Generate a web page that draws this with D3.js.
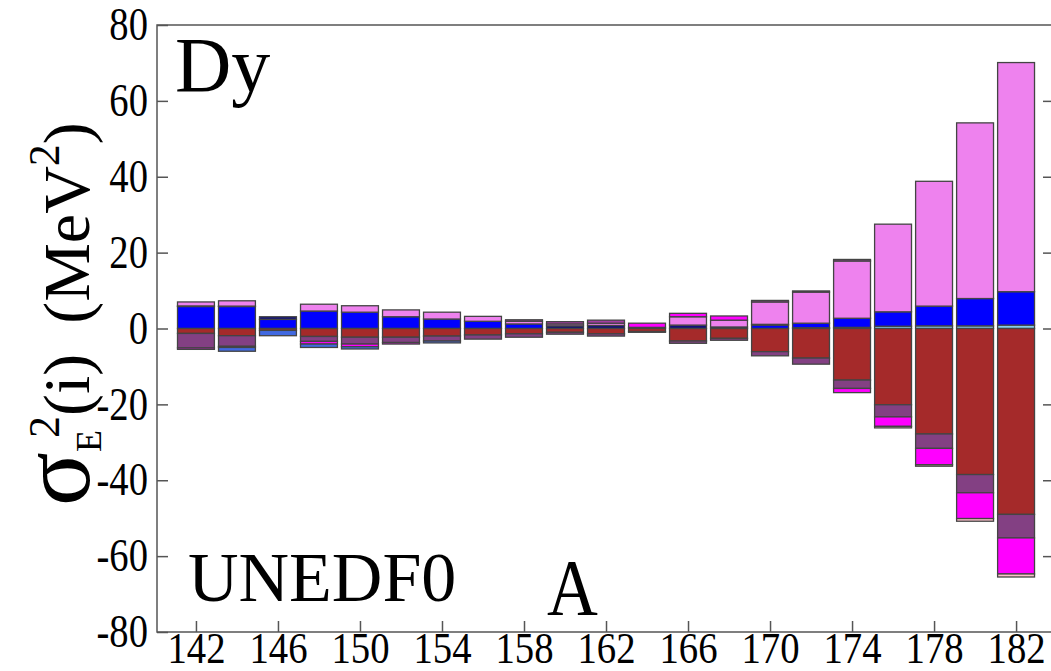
<!DOCTYPE html>
<meta charset="utf-8">
<html>
  <head>
    <script src="https://cdn.jsdelivr.net/npm/d3@7"></script>
    <style>
      body { margin: 0; background: #fff; }
      text { font-family: "Liberation Serif", "Times New Roman", serif; fill: #000; }
    </style>
  </head>
  <body>
    <div id="chart"></div>

    <script type="text/javascript">
      // mass numbers A (one bar each)
      var masses = [142, 144, 146, 148, 150, 152, 154, 156, 158, 160, 162, 164, 166, 168, 170, 172, 174, 176, 178, 180, 182];
      var xTicks = [142, 146, 150, 154, 158, 162, 166, 170, 174, 178, 182];
      var yTicks = [-80, -60, -40, -20, 0, 20, 40, 60, 80];

      // signed contributions (MeV^2), one array per colour band, in stacking order
      var skyblue   = [0, 0, 0, 0, 0, 0, 0, 0, 0, 0, 0, 0, 0, 0, 0, 0.2, 0.3, 0.6, 0.7, 0.7, 0.9];
      var blue      = [5.8, 5.8, 2.4, 4.6, 4.3, 3.1, 2.5, 1.9, 1.2, 0, 0, 0, 0, 0, 0.9, 1.2, 2.4, 3.8, 5.2, 7.2, 8.8];
      var navy      = [0.15, 0.1, 0.7, 0, 0, 0, 0, 0, 0, 0.7, 0.8, 0.3, 0.9, 0.4, 0.2, 0, 0, 0, 0, 0, 0];
      var brown     = [-1.3, -1.9, -0.5, -2.1, -2.3, -2.3, -2.0, -1.7, -1.4, -1.0, -1.4, -0.8, -3.3, -2.6, -6.1, -7.8, -13.6, -20.1, -27.8, -38.5, -49.0];
      var violet    = [1.05, 1.4, 0, 1.8, 1.7, 1.8, 1.8, 1.3, 0.7, 0.5, 0.6, 0, 2.2, 1.8, 5.9, 8.2, 15.1, 23.1, 32.9, 46.3, 60.4];
      var purple    = [-3.8, -2.8, 0, -1.3, -1.8, -1.4, -1.3, -1.1, -0.9, -0.5, -0.6, -0.2, -0.6, -0.5, -1.1, -1.6, -2.2, -3.2, -3.8, -4.8, -6.2];
      var magenta   = [-0.4, -0.3, 0, -0.7, -0.7, -0.4, 0, 0, 0, 0, 0, 1.1, 0.9, 1.1, 0, 0, -1.1, -2.5, -4.3, -6.8, -9.5];
      var pink      = [0, 0, 0, 0, 0, 0, 0, 0, 0, 0, 0, 0, 0, 0, 0, 0, 0, -0.4, -0.4, -0.7, -0.8];
      var royalblue = [0, -1.0, -1.4, -0.9, -0.6, 0, -0.5, 0, 0, 0, 0, 0, 0, 0, 0, 0, 0, 0, 0, 0, 0];
      var orchid    = [0, 0, 0, 0, 0, 0, 0, 0, 0.4, 0.6, 0.8, 0, 0, 0, 0.4, 0.3, 0.4, 0, 0, 0, 0];

      var keys = ["skyblue", "blue", "navy", "brown", "violet", "purple", "magenta", "pink", "royalblue", "orchid"];
      var series = { skyblue: skyblue, blue: blue, navy: navy, brown: brown, violet: violet, purple: purple,
                     magenta: magenta, pink: pink, royalblue: royalblue, orchid: orchid };
      var colors = { skyblue: "#87ceeb", blue: "#0000ff", navy: "#10107a", brown: "#a52a2a", violet: "#ee82ee",
                     purple: "#834083", magenta: "#ff00ff", pink: "#ffc0cb", royalblue: "#4169e1", orchid: "#a43ca4" };

      var table = masses.map(function (a, i) {
        var row = { A: a };
        keys.forEach(function (k) { row[k] = series[k][i]; });
        return row;
      });

      var width = 1051, height = 671,
          plotL = 157, plotR = 1054, plotT = 25, plotB = 632;

      var svg = d3.select("#chart").append("svg")
          .attr("width", width)
          .attr("height", height);

      var x = d3.scaleLinear().domain([140.1, 183.85]).range([plotL, plotR]);
      var y = d3.scaleLinear().domain([-80, 80]).range([plotB, plotT]);

      var stacked = d3.stack().keys(keys).offset(d3.stackOffsetDiverging)(table);
      var halfW = 0.9;

      svg.append("g").selectAll("g")
          .data(stacked)
          .enter().append("g")
            .attr("fill", function (s) { return colors[s.key]; })
          .selectAll("rect")
          .data(function (s) { return s.filter(function (d) { return d[1] !== d[0]; }); })
          .enter().append("rect")
            .attr("x", function (d) { return x(d.data.A - halfW); })
            .attr("width", function (d) { return x(d.data.A + halfW) - x(d.data.A - halfW); })
            .attr("y", function (d) { return y(d[1]); })
            .attr("height", function (d) { return y(d[0]) - y(d[1]); })
            .style("stroke", "#444")
            .style("stroke-width", "1.3px");

      // frame
      svg.append("rect")
          .attr("x", plotL).attr("y", plotT)
          .attr("width", plotR - plotL).attr("height", plotB - plotT)
          .style("fill", "none").style("stroke", "#555").style("stroke-width", "1.5px");

      var sx = 0.84;
      var plain = function (d) { return String(d); };   // keep ASCII hyphen for negatives

      var yAxis = svg.append("g")
          .attr("transform", "translate(" + plotL + ",0)")
          .call(d3.axisLeft(y).tickValues(yTicks).tickFormat(plain).tickSize(-11).tickSizeOuter(0).tickPadding(9));
      yAxis.select(".domain").remove();
      yAxis.selectAll(".tick text")
          .attr("x", -9 / sx)
          .attr("transform", "scale(" + sx + ",1)")
          .style("font-size", "46px").style("font-family", "Liberation Serif, serif");

      var yAxisR = svg.append("g")
          .attr("transform", "translate(" + plotR + ",0)")
          .call(d3.axisRight(y).tickValues(yTicks.slice(1, -1)).tickSize(-11).tickSizeOuter(0).tickFormat(""));
      yAxisR.select(".domain").remove();

      var xAxis = svg.append("g")
          .attr("transform", "translate(0," + plotB + ")")
          .call(d3.axisBottom(x).tickValues(xTicks).tickFormat(plain).tickSize(-11).tickSizeOuter(0).tickPadding(0));
      xAxis.select(".domain").remove();
      xAxis.selectAll(".tick text")
          .attr("transform", "scale(0.88,1)")
          .style("font-size", "44px").style("font-family", "Liberation Serif, serif");

      svg.selectAll(".tick line").style("stroke", "#555").style("stroke-width", "1.5px");

      // labels inside the frame
      svg.append("text").attr("x", 175).attr("y", 91)
          .style("font-size", "78px").text("Dy");
      svg.append("text").attr("x", 188).attr("y", 601)
          .style("font-size", "70px").text("UNEDF0");
      svg.append("text")
          .attr("transform", "translate(547,615) scale(0.88,1)")
          .style("font-size", "80px").text("A");

      // y title
      var title = svg.append("text")
          .attr("transform", "translate(89,506) rotate(-90)")
          .style("font-size", "66px");
      title.append("tspan").style("font-size", "100px").text("σ");
      title.append("tspan").attr("dy", 12).style("font-size", "36px").text("E");
      title.append("tspan").attr("dx", -8).attr("dy", -42).style("font-size", "44px").text("2");
      title.append("tspan").attr("dy", 30).text("(i)");
      title.append("tspan").attr("dx", 30).text("(MeV");
      title.append("tspan").attr("dy", -30).style("font-size", "44px").text("2");
      title.append("tspan").attr("dy", 30).text(")");
    </script>
  </body>
</html>
